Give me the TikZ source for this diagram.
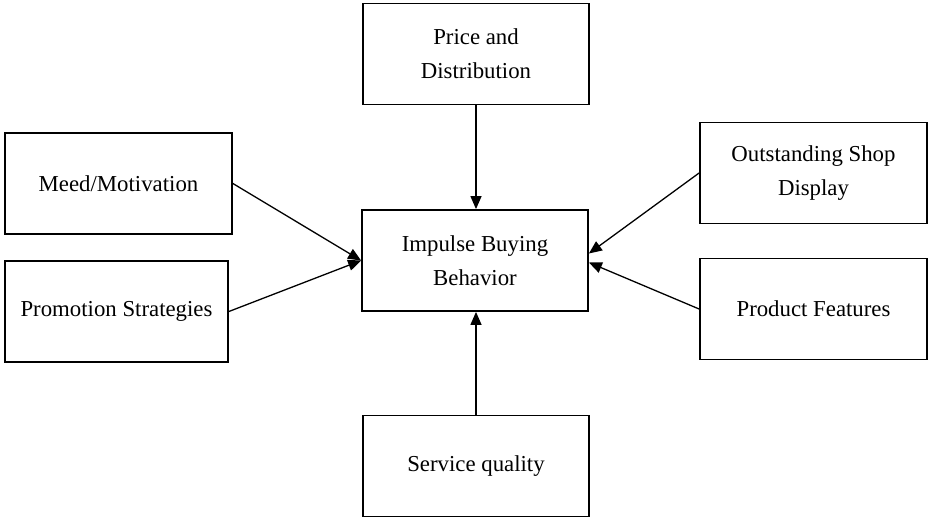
\documentclass[tikz,border=0pt]{standalone}
\usepackage{fontspec}
\setmainfont{Liberation Serif}
\usetikzlibrary{arrows.meta,calc}
\begin{document}
\begin{tikzpicture}[x=1pt,y=1pt,
  box/.style={draw=black,line width=1.8pt,minimum width=226pt,minimum height=101pt,
    align=center,inner sep=0pt,font=\fontsize{22.8}{34}\selectfont},
  conn/.style={line width=1.3pt,-{Triangle[length=13pt,width=11pt]}}]
\path[use as bounding box] (0,0) rectangle (935,522);
\node[box] (price) at (476,468) {Price and\\Distribution};
\node[box,minimum width=227pt] (meed) at (118.5,338.5) {Meed/Motivation};
\node[box,minimum width=223pt] (promo) at (116.5,210.5) {Promotion Strategies};
\node[box] (imp) at (475,261.5) {Impulse Buying\\Behavior};
\node[box,minimum width=227pt] (out) at (813.5,349) {Outstanding Shop\\Display};
\node[box,minimum width=227pt] (prod) at (813.5,213) {Product Features};
\node[box] (serv) at (476,56) {Service quality};
\draw[conn] (price.south) -- (price.south |- imp.north);
\draw[conn] (serv.north) -- (serv.north |- imp.south);
\draw[conn] (meed.east) -- (imp.west);
\draw[conn] (promo.east) -- (imp.west);
\draw[conn] (out.west) -- ($(imp.east)+(0,7)$);
\draw[conn] (prod.west) -- ($(imp.east)+(0,-2)$);
\end{tikzpicture}
\end{document}
